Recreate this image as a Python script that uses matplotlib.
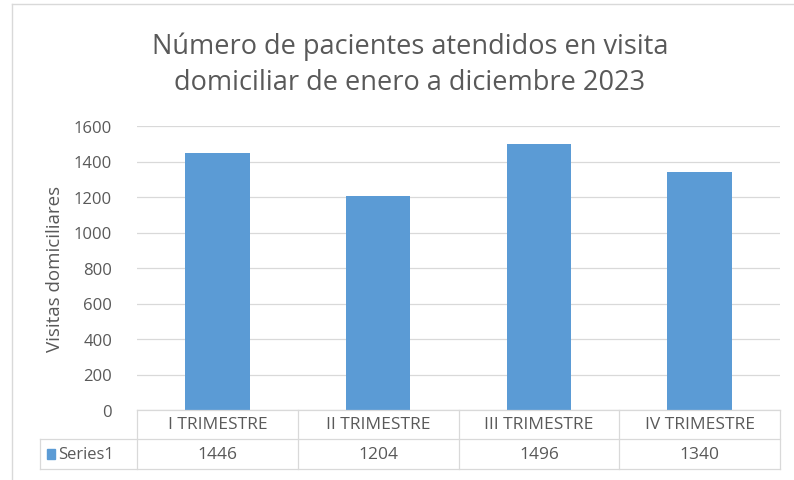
import matplotlib
matplotlib.use("Agg")
import matplotlib.pyplot as plt
from matplotlib.lines import Line2D
from matplotlib.patches import Rectangle

categories = ["I TRIMESTRE", "II TRIMESTRE", "III TRIMESTRE", "IV TRIMESTRE"]
values = [1446, 1204, 1496, 1340]
series_name = "Series1"
yticks = [0, 200, 400, 600, 800, 1000, 1200, 1400, 1600]
title = "Número de pacientes atendidos en visita\ndomiciliar de enero a diciembre 2023"
ylabel = "Visitas domiciliares"

W, H = 794, 481
plt.rcParams['font.family'] = ['Open Sans', 'DejaVu Sans']
fig = plt.figure(figsize=(W/100, H/100), dpi=100)
fig.patch.set_facecolor("white")

def fx(px): return px / W
def fy(py): return 1 - py / H

text_color = "#595959"
left, right, top, bottom = 137, 780, 127, 411
ax = fig.add_axes([fx(left), fy(bottom), fx(right) - fx(left), fy(top) - fy(bottom)])
bar_color = "#5B9BD5"
x = list(range(len(categories)))
ax.bar(x, values, width=0.4, color=bar_color, zorder=3)
ax.set_xlim(-0.5, len(categories) - 0.5)
ax.set_ylim(0, 1600)
ax.set_yticks(yticks)
ax.set_yticklabels([str(t) for t in yticks], color=text_color, fontsize=12)
ax.set_xticks([])
ax.tick_params(axis="y", length=0, pad=18)
ax.grid(axis="y", color="#D9D9D9", linewidth=0.9, zorder=0)
for s in ax.spines.values():
    s.set_visible(False)
ax.set_ylabel(ylabel, color=text_color, fontsize=13.5)
ax.yaxis.set_label_coords((64 - left) / (right - left), 0.5)

fig.text(fx(410), fy(65), title, ha="center", va="center", fontsize=19.5,
         color=text_color, linespacing=1.4)

# Data table
line_color = "#D9D9D9"
col_edges = [left + i * (right - left) / len(categories) for i in range(len(categories) + 1)]
row1_top, row1_bot, row2_bot = 411, 440, 470
label_left = 40

def hline(y, x0, x1):
    fig.add_artist(Line2D([fx(x0), fx(x1)], [fy(y), fy(y)], color=line_color, lw=0.9))

def vline(x0, y0, y1):
    fig.add_artist(Line2D([fx(x0), fx(x0)], [fy(y0), fy(y1)], color=line_color, lw=0.9))

hline(row1_top, left, right)
hline(row1_bot, label_left, right)
hline(row2_bot, label_left, right)
for e in col_edges:
    vline(e, row1_top, row2_bot)
vline(label_left, row1_bot, row2_bot)

for i, (c, v) in enumerate(zip(categories, values)):
    cx = (col_edges[i] + col_edges[i + 1]) / 2
    fig.text(fx(cx), fy((row1_top + row1_bot) / 2), c, ha="center", va="center",
             fontsize=12.5, color=text_color)
    fig.text(fx(cx), fy((row1_bot + row2_bot) / 2), str(v), ha="center", va="center",
             fontsize=12.5, color=text_color)

fig.add_artist(Rectangle((fx(47), fy(460)), fx(8), fy(450) - fy(460), color=bar_color))
fig.text(fx(58), fy((row1_bot + row2_bot) / 2), series_name, ha="left", va="center",
         fontsize=12, color=text_color)

# outer frame
fig.add_artist(Line2D([fx(12), fx(12)], [fy(5), fy(481)], color="#D9D9D9", lw=1))
fig.add_artist(Line2D([fx(12), fx(794)], [fy(5), fy(5)], color="#D9D9D9", lw=1))

fig.savefig("out.png", dpi=100, facecolor="white")
